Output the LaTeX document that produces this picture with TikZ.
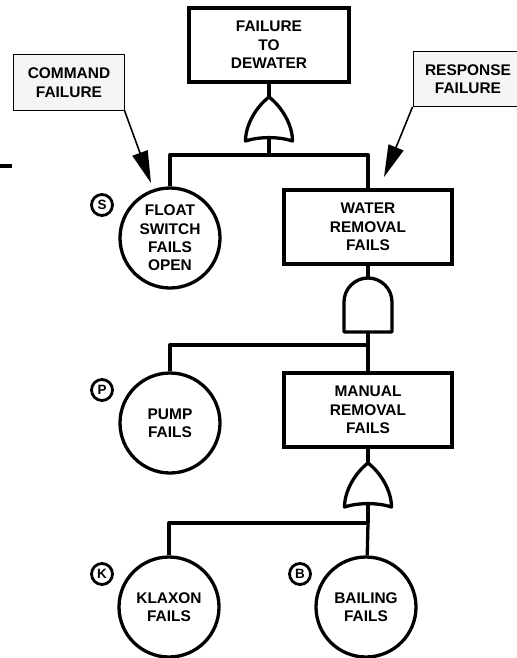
\documentclass[tikz,border=0pt]{standalone}
\usepackage{fontspec}
\setmainfont{Liberation Sans}
\usetikzlibrary{arrows.meta}
\newcommand{\orgate}[2]{\begin{scope}[shift={#2}]\draw[ftwire, fill=white] (0,0) .. controls (-13,10) and (-23.5,28) .. (-23.5,44) .. controls (-10,39.5) and (10,39.5) .. (23.5,44) .. controls (23.5,28) and (13,10) .. (0,0) -- cycle;\coordinate (#1-out) at (0,0);\coordinate (#1-in) at (0,41);\end{scope}}
\newcommand{\andgate}[2]{\begin{scope}[shift={#2}]\draw[ftwire, fill=white] (-24,54) -- (-24,24) arc[start angle=180, end angle=360, radius=24] -- (24,54) -- cycle;\coordinate (#1-out) at (0,0);\coordinate (#1-in) at (0,54);\end{scope}}
\tikzset{ftwire/.style={line width=3.3bp, line join=round},
  fttext/.style={font=\bfseries\fontsize{15.5}{18.5}\selectfont, align=center, inner sep=0pt},
  ftbox/.style={fttext, draw, line width=3.3bp, minimum width=#1, minimum height=74bp},
  ftevent/.style={fttext, draw, circle, line width=3.3bp, minimum size=100bp},
  ftnote/.style={fttext, draw, line width=1bp, fill=gray!8, minimum width=110bp, minimum height=55bp},
  fttag/.style={draw, circle, line width=2.8bp, minimum size=21bp, inner sep=0pt, font=\bfseries\fontsize{13.5}{13.5}\selectfont},
  ftarrow/.style={-{Triangle[length=32bp, width=16bp]}, line width=1.6bp}}

\begin{document}
\begin{tikzpicture}[x=1bp, y=-1bp]
\useasboundingbox (0,0) rectangle (517,658);
\node[ftbox=160bp] (top) at (269,45) {FAILURE\\TO\\DEWATER};
\node[ftnote] (cmd) at (69,82.5) {COMMAND\\FAILURE};
\node[ftnote] (resp) at (468,79) {RESPONSE\\FAILURE};
\node[ftevent] (float) at (170,238) {FLOAT\\SWITCH\\FAILS\\OPEN};
\node[ftbox=168bp] (water) at (368,227) {WATER\\REMOVAL\\FAILS};
\node[ftevent] (pump) at (170,423) {PUMP\\FAILS};
\node[ftbox=168bp] (manual) at (368,410) {MANUAL\\REMOVAL\\FAILS};
\node[ftevent] (klaxon) at (169,607) {KLAXON\\FAILS};
\node[ftevent] (bailing) at (366,607) {BAILING\\FAILS};
\node[fttag] (tags) at (102,205) {S};
\node[fttag] (tagp) at (102,390) {P};
\node[fttag] (tagk) at (102,574) {K};
\node[fttag] (tagb) at (300,574) {B};
\orgate{gtop}{(269,97)}
\andgate{gwater}{(368,278)}
\orgate{gmanual}{(368,463)}
\coordinate (bartop) at (269,155);
\coordinate (barwater) at (368,345);
\coordinate (barmanual) at (368,523);
\coordinate (cmdtip) at (151,183);
\coordinate (resptip) at (384,177);
\draw[ftwire] (top) -- (gtop-out);
\draw[ftwire] (gtop-in) -- (bartop);
\draw[ftwire] (bartop) -| (float);
\draw[ftwire] (bartop) -| (water);
\draw[ftwire] (water) -- (gwater-out);
\draw[ftwire] (gwater-in) -- (manual);
\draw[ftwire] (barwater) -| (pump);
\draw[ftwire] (manual) -- (gmanual-out);
\draw[ftwire] (gmanual-in) -- (barmanual);
\draw[ftwire] (barmanual) -| (klaxon);
\draw[ftwire] (barmanual) -- (bailing);
\draw[ftarrow] (cmd.south east) -- (cmdtip);
\draw[ftarrow] (resp.south west) -- (resptip);
\draw[ftwire] (0,166) -- (12,166);
\end{tikzpicture}
\end{document}
